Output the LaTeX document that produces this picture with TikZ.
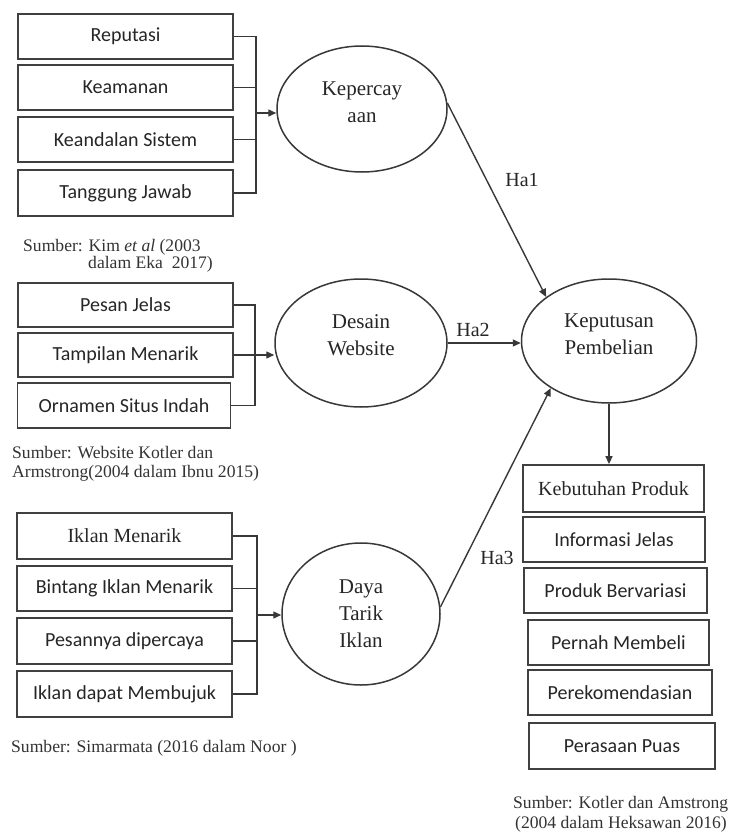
\documentclass[tikz,border=0pt]{standalone}
\usepackage{fontspec}
\setmainfont{Liberation Serif}
\newfontfamily\boxfont{Carlito}
\usetikzlibrary{arrows.meta,shapes.geometric}

\begin{document}
\begin{tikzpicture}[x=1pt,y=-1pt,
  ibox/.style={draw=black!75, line width=1.8pt, minimum width=215pt, minimum height=45pt,
    inner sep=0pt, font=\boxfont\fontsize{20}{24}\selectfont, text=black!85},
  sbox/.style={ibox, font=\fontsize{20}{24}\selectfont},
  latent/.style={ellipse, draw=black!78, line width=1.5pt, inner sep=0pt, align=center,
    font=\fontsize{21}{27}\selectfont, text=black!85},
  link/.style={draw=black!78, line width=1.4pt},
  arr/.style={link, -{Triangle[length=8pt,width=7pt]}},
  src/.style={anchor=base west, inner sep=0pt, font=\fontsize{17.6}{18}\selectfont, text=black!80},
  hlab/.style={inner sep=0pt, font=\fontsize{20}{24}\selectfont, text=black!85}
]
\useasboundingbox[fill=white] (0,0) rectangle (733,832);

% ---- Kepercayaan indicators ----
\node[ibox] (rep) at (125.5,36.5) {Reputasi};
\node[ibox] (kea) at (125.5,87.5) {Keamanan};
\node[ibox] (ksi) at (125.5,139.5) {Keandalan Sistem};
\node[ibox, minimum height=46pt] (tj) at (125.5,193) {Tanggung Jawab};
\node[src] (s1a) at (23,251) {Sumber: Kim \textit{et al} (2003};
\node[src] (s1b) at (88,268) {dalam Eka\ \ 2017)};

\node[latent, minimum width=170pt, minimum height=126pt, text depth=14pt] (kep) at (362,109) {Kepercay\\aan};

\coordinate (j1) at (256,113);
\draw[link] (rep.east) -- (rep.east -| j1) -- (tj.east -| j1) -- (tj.east);
\draw[link] (kea.east) -- (kea.east -| j1);
\draw[link] (ksi.east) -- (ksi.east -| j1);
\draw[arr] (j1) -- (j1 -| kep.west);

% ---- Desain Website indicators ----
\node[ibox, minimum height=44pt] (pes) at (125.5,305) {Pesan Jelas};
\node[ibox, minimum height=44pt] (tam) at (125.5,355) {Tampilan Menarik};
\node[ibox, minimum width=213pt] (orn) at (124,405.5) {Ornamen Situs Indah};
\node[src] (s2a) at (12,458) {Sumber: Website Kotler dan};
\node[src] (s2b) at (12,477) {Armstrong(2004 dalam Ibnu 2015)};

\node[latent, minimum width=172pt, minimum height=128pt, text depth=15pt] (des) at (361,343) {Desain\\Website};

\coordinate (j2) at (255,355);
\draw[link] (pes.east) -- (pes.east -| j2) -- (orn.east -| j2) -- (orn.east);
\draw[arr] (tam.east) -- (tam.east -| des.west);

% ---- Daya Tarik Iklan indicators ----
\node[sbox, minimum height=46pt] (ikm) at (124.5,536) {Iklan Menarik};
\node[ibox] (bim) at (124.5,588.5) {Bintang Iklan Menarik};
\node[ibox, minimum height=46pt] (pdp) at (124.5,641) {Pesannya dipercaya};
\node[ibox, minimum height=46pt] (idm) at (124.5,694) {Iklan dapat Membujuk};
\node[src] (s3) at (11,752) {Sumber: Simarmata (2016 dalam Noor )};

\node[latent, minimum width=158pt, minimum height=142pt] (day) at (361,614) {Daya\\Tarik\\Iklan};

\coordinate (j3) at (257,615);
\draw[link] (ikm.east) -- (ikm.east -| j3) -- (idm.east -| j3) -- (idm.east);
\draw[link] (bim.east) -- (bim.east -| j3);
\draw[link] (pdp.east) -- (pdp.east -| j3);
\draw[arr] (j3) -- (j3 -| day.west);

% ---- Keputusan Pembelian ----
\node[latent, minimum width=175pt, minimum height=124pt, text depth=13pt] (kepu) at (609,341) {Keputusan\\Pembelian};

\draw[arr] (kep.4) -- (kepu.145);
\node[hlab] (h1) at (522,180) {Ha1};
\draw[arr] (des.east) -- (kepu.west |- des.east);
\node[hlab] (h2) at (473,330) {Ha2};
\draw[arr] (day.5) -- (kepu.219);
\node[hlab] (h3) at (497,558) {Ha3};

% ---- Keputusan Pembelian indicators ----
\node[sbox, minimum width=181pt, minimum height=47pt] (keb) at (613.5,488.5) {Kebutuhan Produk};
\node[ibox, minimum width=182pt] (inf) at (614,539.5) {Informasi Jelas};
\node[ibox, minimum width=183pt] (pbv) at (615.5,590.5) {Produk Bervariasi};
\node[ibox, minimum width=181pt] (pmb) at (618.5,642.5) {Pernah Membeli};
\node[ibox, minimum width=184pt] (rek) at (620,692.5) {Perekomendasian};
\node[ibox, minimum width=186pt, minimum height=46pt] (pua) at (622,746) {Perasaan Puas};
\node[src] (s4a) at (513,808) {Sumber: Kotler dan Amstrong};
\node[src] (s4b) at (515,828) {(2004 dalam Heksawan 2016)};

\draw[arr] (kepu.south) -- (kepu.south |- keb.north);
\end{tikzpicture}
\end{document}
